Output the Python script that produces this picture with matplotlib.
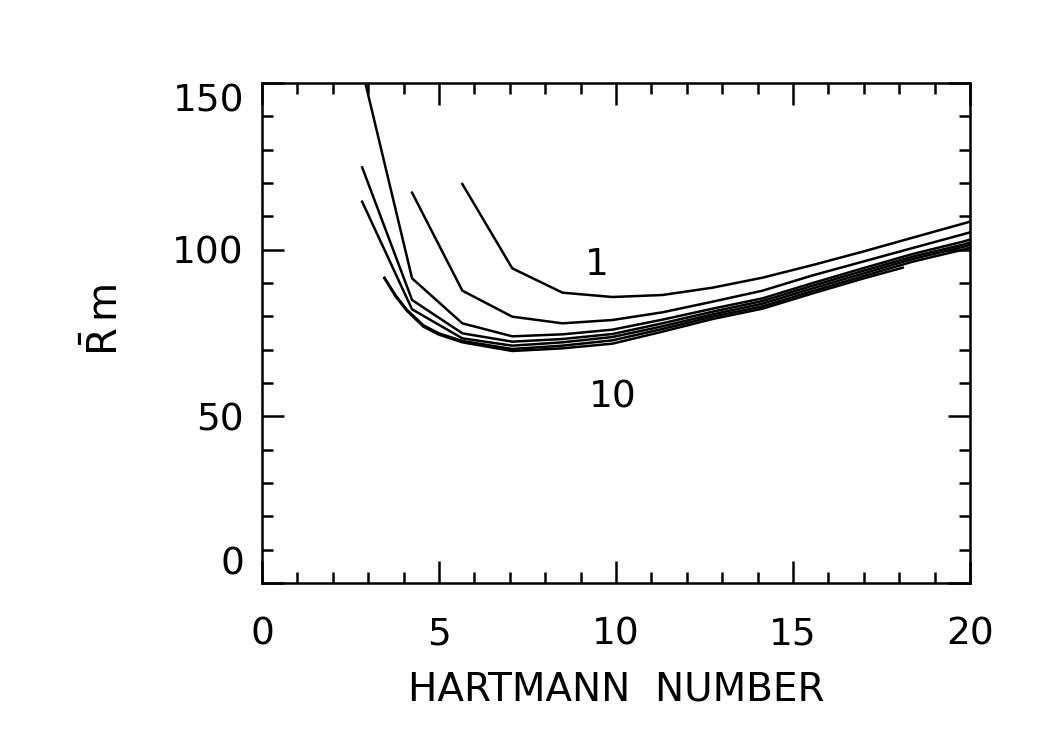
import numpy as np
import matplotlib
matplotlib.use("Agg")
import matplotlib.pyplot as plt
from matplotlib.ticker import MultipleLocator

plt.rcParams['font.family'] = ['DejaVu Sans']
plt.rcParams['mathtext.fontset'] = 'dejavusans'

# Hartmann number grid (steps of sqrt(2))
ha = [2.83, 4.24, 5.66, 7.07, 8.49, 9.90, 11.31, 12.73, 14.14, 15.56, 16.97, 18.38, 19.80, 21.21]

x1 = ha[2:]
y1 = [119.7, 94.4, 87.1, 85.8, 86.4, 88.6, 91.6, 95.4, 99.4, 103.6, 107.8, 112.0]

x2 = ha[1:]
y2 = [117.1, 87.7, 79.9, 77.9, 78.9, 81.2, 84.4, 87.7, 92.3, 96.4, 100.5, 104.6, 108.8]

x3 = ha
y3 = [154.0, 91.4, 77.9, 74.0, 74.6, 76.0, 79.0, 82.3, 85.4, 90.0, 94.4, 98.7, 102.4, 106.8]

x4 = ha
y4 = [124.7, 84.9, 74.9, 72.4, 73.2, 74.7, 77.9, 81.4, 84.6, 89.2, 93.6, 97.9, 101.5, 105.9]

x5 = ha
y5 = [114.4, 82.1, 73.4, 71.2, 72.2, 73.8, 77.0, 80.6, 83.8, 88.4, 92.8, 97.2, 100.8, 105.2]

x6 = [3.46, 3.78, 4.09, 4.56, 5.0, 5.66, 7.07, 8.49, 9.90, 11.31, 12.73, 14.14, 15.56, 16.97, 18.38, 19.80, 21.21]
y6 = [91.6, 86.2, 82.0, 77.3, 74.9, 72.6, 70.2, 71.2, 72.8, 76.2, 79.9, 83.0, 87.6, 92.0, 96.4, 100.0, 104.4]

x7 = [3.46, 3.78, 4.09, 4.56, 5.0, 5.66, 7.07, 8.49, 9.90, 11.31, 12.73, 14.14, 15.56, 16.97, 18.10]
y7 = [91.4, 85.9, 81.7, 76.9, 74.5, 72.2, 69.6, 70.4, 71.8, 75.4, 79.2, 82.3, 86.9, 91.3, 94.6]

curves = [(x1, y1), (x2, y2), (x3, y3), (x4, y4), (x5, y5), (x6, y6), (x7, y7)]

fs = 27

fig = plt.figure(figsize=(10.5, 7.5), dpi=100)
ax = fig.add_axes([0.2495, 0.2227, 0.6743, 0.6666])

for xs, ys in curves:
    ax.plot(xs, ys, color='black', lw=1.8)

ax.text(9.46, 95.4, '1', fontsize=fs, ha='center', va='center')
ax.text(9.92, 55.5, '10', fontsize=fs, ha='center', va='center')

ax.set_xlim(0, 20)
ax.set_ylim(0, 150)
ax.xaxis.set_major_locator(MultipleLocator(5))
ax.xaxis.set_minor_locator(MultipleLocator(1))
ax.yaxis.set_major_locator(MultipleLocator(50))
ax.yaxis.set_minor_locator(MultipleLocator(10))
ax.tick_params(which='both', direction='in', top=True, right=True, width=1.8)
ax.tick_params(which='major', length=16, labelsize=fs)
ax.tick_params(which='minor', length=8)
ax.tick_params(axis='x', which='major', pad=24)
ax.tick_params(axis='y', which='major', pad=13)
for s in ax.spines.values():
    s.set_linewidth(1.8)

ax.set_xlabel('HARTMANN  NUMBER', fontsize=28)
ax.xaxis.set_label_coords(0.5, -0.175)
ax.xaxis.label.set_va('top')
ax.set_ylabel(r'$\bar{\mathrm{R}}\,\mathrm{m}$', fontsize=29)
ax.yaxis.set_label_coords(-0.19, 0.526)

# end labels on the y axis sit inside the frame
fig.canvas.draw()
for t in ax.yaxis.get_major_ticks():
    if abs(t.get_loc() - 150) < 1e-6:
        t.label1.set_va('top')
    elif abs(t.get_loc()) < 1e-6:
        t.label1.set_va('bottom')

fig.savefig('out.png', dpi=100)
